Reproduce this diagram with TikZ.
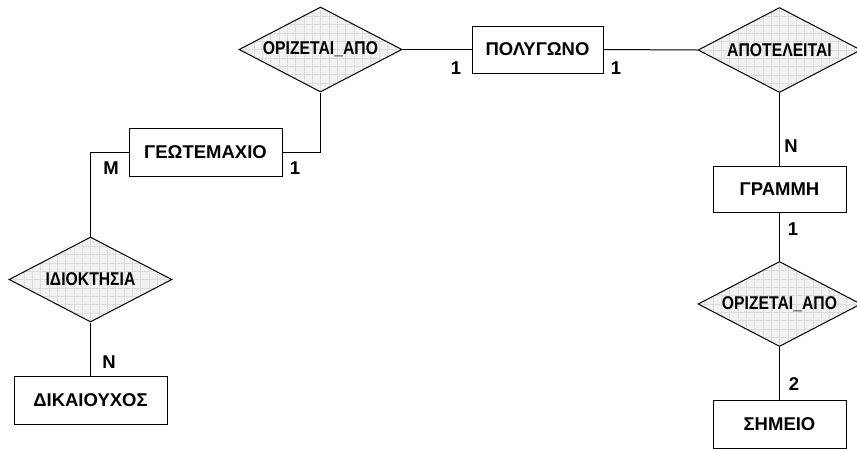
\documentclass[tikz,border=0pt]{standalone}
\usepackage{fontspec}
\setmainfont{Liberation Sans}
\newfontfamily\dfont[FakeStretch=0.85]{Liberation Sans}
\usetikzlibrary{shapes.geometric}
\definecolor{dfill}{HTML}{F2F2F2}
\definecolor{gridc}{HTML}{DCDCDC}
\begin{document}
\begin{tikzpicture}[x=1pt,y=-1pt,line width=1pt,
  entity/.style={draw, rectangle, inner sep=0pt, fill=white,
    font=\fontsize{18.5}{20}\selectfont\bfseries},
  rel/.style={draw, diamond, inner sep=0pt, minimum width=163pt, minimum height=85pt,
    shape aspect=1.92, fill=dfill,
    font=\dfont\fontsize{18.5}{20}\selectfont\bfseries,
    path picture={\draw[gridc, line width=0.5pt, step=8.33pt]
      (path picture bounding box.south west) grid (path picture bounding box.north east);}},
  card/.style={inner sep=0pt, font=\fontsize{18.5}{20}\selectfont\bfseries}]
\useasboundingbox (0,0) rectangle (857,448);

% entities
\node[entity, minimum width=131pt, minimum height=47pt] (pol) at (537.5,49.5) {ΠΟΛΥΓΩΝΟ};
\node[entity, minimum width=153pt, minimum height=48pt] (geo) at (205.5,152) {ΓΕΩΤΕΜΑΧΙΟ};
\node[entity, minimum width=153pt, minimum height=48pt] (dik) at (90.5,400) {ΔΙΚΑΙΟΥΧΟΣ};
\node[entity, minimum width=133pt, minimum height=46pt] (gra) at (779.5,189) {ΓΡΑΜΜΗ};
\node[entity, minimum width=133pt, minimum height=48pt] (shm) at (779.5,424) {ΣΗΜΕΙΟ};

% relationships
\node[rel] (r1) at (320.5,49.5) {ΟΡΙΖΕΤΑΙ\_ΑΠΟ};
\node[rel] (r2) at (779.5,50) {ΑΠΟΤΕΛΕΙΤΑΙ};
\node[rel] (r3) at (90.5,279.5) {ΙΔΙΟΚΤΗΣΙΑ};
\node[rel] (r4) at (779.5,304) {ΟΡΙΖΕΤΑΙ\_ΑΠΟ};

% connectors
\draw (r1.east) -- (pol.west);
\draw (pol.east) -- (r2.west);
\draw (r2.south) -- (gra.north);
\draw (gra.south) -- (r4.north);
\draw (r4.south) -- (shm.north);
\draw (geo.east) -| (r1.south);
\draw (geo.west) -| (r3.north);
\draw (r3.south) -- (dik.north);

% cardinalities
\node[card] (c1) at (456,68) {1};
\node[card] (c2) at (616,68) {1};
\node[card] (c3) at (295,168) {1};
\node[card] (c4) at (111,168) {M};
\node[card] (c5) at (109,362) {N};
\node[card] (c6) at (791,146) {N};
\node[card] (c7) at (793,229) {1};
\node[card] (c8) at (794,384) {2};
\end{tikzpicture}
\end{document}
